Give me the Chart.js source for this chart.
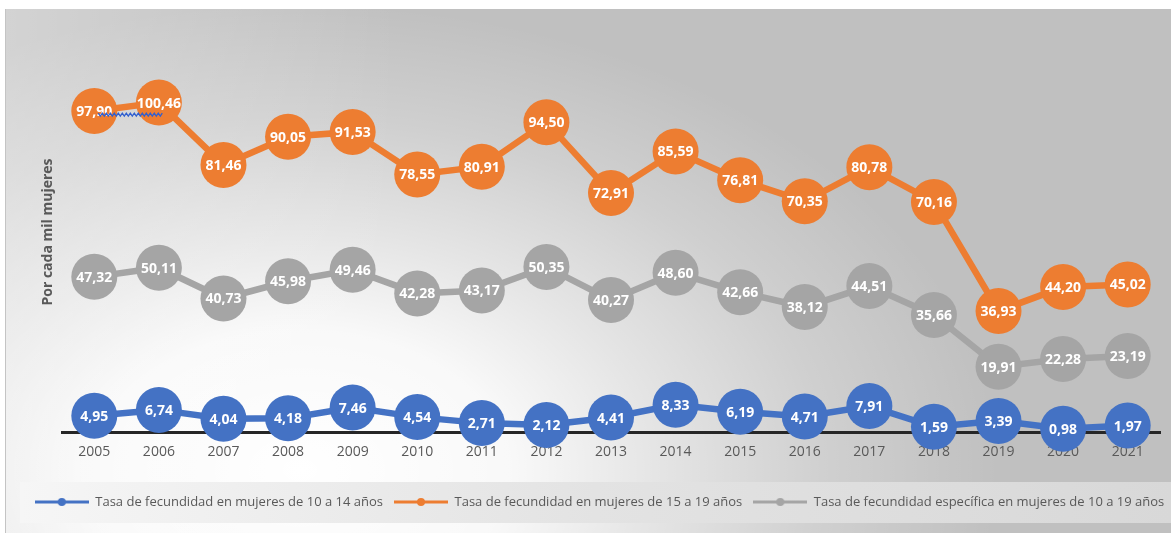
<!DOCTYPE html>
<html lang="es">
<head>
<meta charset="utf-8">
<title>Tasa de fecundidad</title>
<script src="https://cdn.jsdelivr.net/npm/chart.js@4.4.1/dist/chart.umd.min.js"></script>
<style>
  html, body { margin: 0; padding: 0; background: #ffffff; }
  #wrap { width: 1171px; height: 533px; }
</style>
</head>
<body>
<div id="wrap"><canvas id="c" width="1171" height="533"></canvas></div>
<script>
// ---- Data ----
const years = ['2005','2006','2007','2008','2009','2010','2011','2012','2013','2014','2015','2016','2017','2018','2019','2020','2021'];
const tasa10a14 = [4.95, 6.74, 4.04, 4.18, 7.46, 4.54, 2.71, 2.12, 4.41, 8.33, 6.19, 4.71, 7.91, 1.59, 3.39, 0.98, 1.97];
const tasa15a19 = [97.90, 100.46, 81.46, 90.05, 91.53, 78.55, 80.91, 94.50, 72.91, 85.59, 76.81, 70.35, 80.78, 70.16, 36.93, 44.20, 45.02];
const tasa10a19 = [47.32, 50.11, 40.73, 45.98, 49.46, 42.28, 43.17, 50.35, 40.27, 48.60, 42.66, 38.12, 44.51, 35.66, 19.91, 22.28, 23.19];
const seriesNames = [
  'Tasa de fecundidad en mujeres de 10 a 14 años',
  'Tasa de fecundidad en mujeres de 15 a 19 años',
  'Tasa de fecundidad específica en mujeres de 10 a 19 años'
];
const yTitle = 'Por cada mil mujeres';

// ---- Styles ----
const BLUE = '#4472C4', ORANGE = '#ED7D31', GRAY = '#A5A5A5';
const TEXT = '#595959';
Chart.defaults.font.family = "'Open Sans', 'DejaVu Sans', sans-serif";

function legendSymbol(color) {
  const cv = document.createElement('canvas');
  cv.width = 54; cv.height = 12;
  const g = cv.getContext('2d');
  g.strokeStyle = color; g.lineWidth = 3;
  g.beginPath(); g.moveTo(0, 6); g.lineTo(54, 6); g.stroke();
  g.fillStyle = color;
  g.beginPath(); g.arc(27, 6, 4, 0, Math.PI * 2); g.fill();
  return cv;
}
const symbols = [legendSymbol(BLUE), legendSymbol(ORANGE), legendSymbol(GRAY)];

const fmt = v => v.toFixed(2).replace('.', ',');

const backgroundPlugin = {
  id: 'panelBackground',
  afterLayout(chart) {
    // the legend of the reference sits slightly right of the canvas centre
    const lg = chart.legend;
    if (lg) { lg.left += 17; lg.right += 17; }
  },
  beforeDraw(chart) {
    const ctx = chart.ctx;
    const W = chart.width, H = chart.height;
    ctx.save();
    ctx.fillStyle = '#ffffff';
    ctx.fillRect(0, 0, W, H);
    const px = 5, py = 9;
    ctx.beginPath(); ctx.rect(px, py, W - px, H - py); ctx.clip();
    ctx.fillStyle = '#c0c0c0';
    ctx.fillRect(px, py, W - px, H - py);
    // elliptical light area (bottom-left)
    ctx.save();
    ctx.translate(300, 470);
    ctx.scale(1, 1 / 1.5);
    const rg = ctx.createRadialGradient(0, 0, 0, 0, 0, 700);
    rg.addColorStop(0, 'rgba(255,255,255,1)');
    rg.addColorStop(0.3, 'rgba(255,255,255,0.9)');
    rg.addColorStop(0.5, 'rgba(255,255,255,0.6)');
    rg.addColorStop(0.75, 'rgba(255,255,255,0.25)');
    rg.addColorStop(1, 'rgba(255,255,255,0)');
    ctx.fillStyle = rg;
    ctx.fillRect(-1200, -1200, 2400, 2400);
    ctx.restore();
    // light band along the left side
    const lg = ctx.createLinearGradient(px, 0, 400, 0);
    lg.addColorStop(0, 'rgba(255,255,255,0.3)');
    lg.addColorStop(1, 'rgba(255,255,255,0)');
    ctx.fillStyle = lg;
    ctx.fillRect(px, py, 400, H - py);
    // legend band
    const lb = ctx.createLinearGradient(20, 0, W, 0);
    lb.addColorStop(0, '#f6f6f6');
    lb.addColorStop(0.5, '#e3e3e3');
    lb.addColorStop(1, '#d8d8d8');
    ctx.fillStyle = lb;
    ctx.fillRect(20, 482, W - 20, 41);
    ctx.restore();
    // left panel border
    ctx.save();
    ctx.strokeStyle = '#c4c4c4'; ctx.lineWidth = 1;
    ctx.beginPath(); ctx.moveTo(px + 0.5, py); ctx.lineTo(px + 0.5, H); ctx.stroke();
    ctx.restore();
  }
};

const labelPlugin = {
  id: 'pointLabels',
  afterDatasetsDraw(chart) {
    const ctx = chart.ctx;
    ctx.save();
    ctx.font = "bold 14px 'Open Sans', sans-serif";
    ctx.fillStyle = '#ffffff';
    ctx.textAlign = 'center';
    ctx.textBaseline = 'middle';
    chart.data.datasets.forEach((ds, di) => {
      const meta = chart.getDatasetMeta(di);
      meta.data.forEach((pt, i) => {
        ctx.fillText(fmt(ds.data[i]), pt.x, pt.y + 1);
      });
    });
    // spell-check squiggle seen under the first two orange labels
    const m = chart.getDatasetMeta(1).data;
    if (m.length > 1) {
      const x0 = m[0].x + 4, x1 = m[1].x + 4, y = m[1].y + 12;
      ctx.strokeStyle = '#2f5fd0'; ctx.lineWidth = 1.3;
      ctx.beginPath();
      for (let x = x0, k = 0; x <= x1; x += 2, k++) {
        const yy = y + (k % 2 ? 1.5 : -1.5);
        if (k === 0) ctx.moveTo(x, yy); else ctx.lineTo(x, yy);
      }
      ctx.stroke();
    }
    ctx.restore();
  }
};

function ds(label, data, color) {
  return {
    label, data,
    borderColor: color,
    backgroundColor: color,
    borderWidth: 6.5,
    pointRadius: 23,
    pointHoverRadius: 23,
    pointBackgroundColor: color,
    pointBorderColor: color,
    pointBorderWidth: 0,
    tension: 0,
    clip: false
  };
}

new Chart(document.getElementById('c'), {
  type: 'line',
  data: {
    labels: years,
    datasets: [
      ds(seriesNames[0], tasa10a14, BLUE),
      ds(seriesNames[1], tasa15a19, ORANGE),
      ds(seriesNames[2], tasa10a19, GRAY)
    ]
  },
  plugins: [backgroundPlugin, labelPlugin],
  options: {
    responsive: false,
    animation: false,
    devicePixelRatio: 1,
    layout: { autoPadding: false, padding: { left: 5, right: 11, top: 32, bottom: 14.5 } },
    plugins: {
      tooltip: { enabled: false },
      legend: {
        position: 'bottom',
        labels: {
          usePointStyle: true,
          pointStyleWidth: 54,
          padding: 11,
          color: TEXT,
          font: { size: 13 },
          generateLabels(chart) {
            const items = Chart.defaults.plugins.legend.labels.generateLabels(chart);
            items.forEach((it, i) => { it.pointStyle = symbols[i]; });
            return items;
          }
        }
      }
    },
    scales: {
      x: {
        offset: true,
        grid: { display: false, drawTicks: false },
        border: { display: true, color: '#262626', width: 3 },
        ticks: { color: TEXT, font: { size: 14 }, padding: 12 },
        afterFit(scale) {
          scale.height = 52.5;
        }
      },
      y: {
        min: 0,
        max: 122,
        grid: { display: false, drawTicks: false },
        border: { display: false },
        ticks: { display: false },
        title: {
          display: true,
          text: yTitle,
          color: TEXT,
          font: { size: 14, weight: 'bold' },
          padding: { top: 35, bottom: 5.2 }
        }
      }
    }
  }
});
</script>
</body>
</html>
